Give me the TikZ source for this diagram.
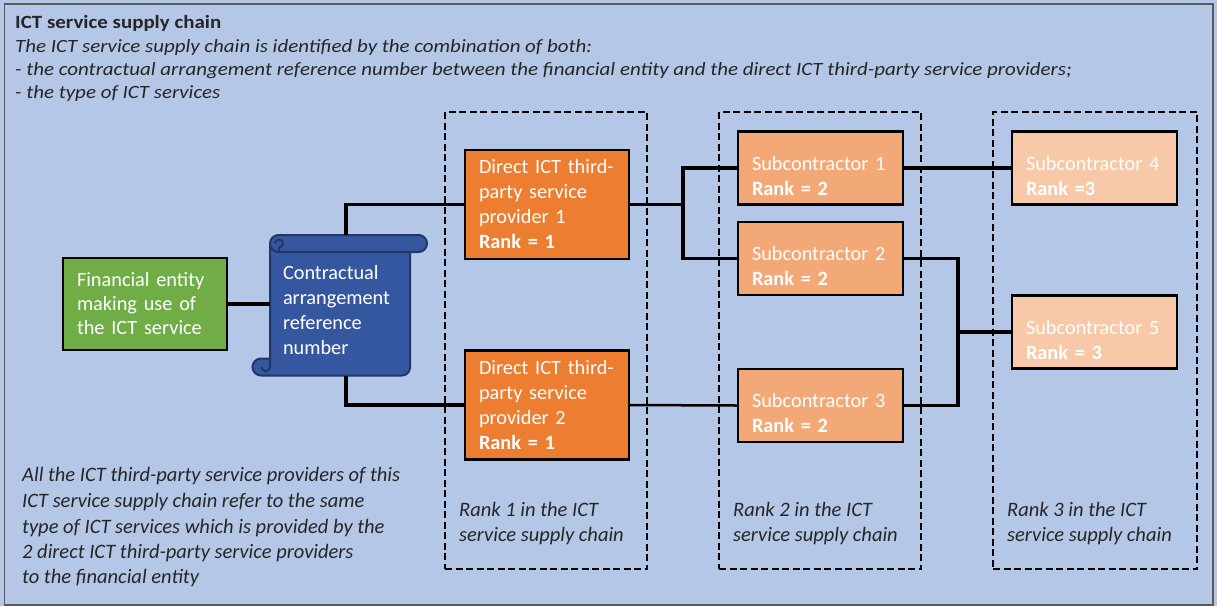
\documentclass[tikz,border=0pt]{standalone}
\usepackage{fontspec}
\setmainfont{Carlito}
\definecolor{bgblue}{HTML}{B4C7E7}
\definecolor{framegray}{HTML}{5A5A5A}
\definecolor{fingreen}{HTML}{70AD47}
\definecolor{scrollblue}{HTML}{3557A0}
\definecolor{scrolldark}{HTML}{1F3864}
\definecolor{orangeA}{HTML}{ED7D31}
\definecolor{orangeB}{HTML}{F2A977}
\definecolor{orangeC}{HTML}{F7C9A8}
\definecolor{txtdark}{HTML}{262626}
\newcommand{\hstretch}[1]{\scalebox{1.12}[1]{#1}}
\begin{document}
\begin{tikzpicture}[x=1pt,y=-1pt,
  boxbase/.style={draw=black, line width=2.4pt, text=white, align=left,
    inner xsep=14pt, inner ysep=0pt, font=\fontsize{20.3}{25}\selectfont},
  finbox/.style={boxbase, fill=fingreen, text width=136pt, minimum height=92pt,
    font=\fontsize{20.3}{24}\selectfont},
  dirbox/.style={boxbase, fill=orangeA, text width=136pt, minimum height=109pt},
  subbox/.style={boxbase, fill=orangeB, text width=137pt, minimum height=73pt, text depth=10pt},
  subboxlight/.style={boxbase, fill=orangeC, text width=137pt, minimum height=73pt, text depth=10pt},
  rankbox/.style={draw=black, line width=2pt, dash pattern=on 7pt off 3.5pt},
  conn/.style={draw=black, line width=3.5pt},
  connthin/.style={draw=black, line width=2.5pt},
  hdr/.style={text=txtdark, inner sep=0pt, anchor=base west, font=\fontsize{18.7}{20}\selectfont},
  note/.style={text=txtdark, inner sep=0pt, anchor=base west, font=\fontsize{20.5}{25}\selectfont\itshape}
]
\fill[bgblue] (0,0) rectangle (1217,606);
\useasboundingbox (0,0) rectangle (1217,606);
\draw[framegray, line width=1.5pt] (4.5,4) rectangle (1213,605);

% header
\node[hdr] (t0) at (15,28) {\hstretch{\bfseries ICT service supply chain}};
\node[hdr] (t1) at (15,52) {\hstretch{\itshape The ICT service supply chain is identified by the combination of both:}};
\node[hdr] (t2) at (15,75) {\hstretch{\itshape - the contractual arrangement reference number between the financial entity and the direct ICT third-party service providers;}};
\node[hdr] (t3) at (15,98) {\hstretch{\itshape - the type of ICT services}};

% rank boxes
\node[rankbox, minimum width=202pt, minimum height=457pt] (r1) at (546,340.5) {};
\node[rankbox, minimum width=202pt, minimum height=457pt] (r2) at (820,340.5) {};
\node[rankbox, minimum width=204pt, minimum height=457pt] (r3) at (1095,340.5) {};

\node[note] (r1a) at (459,516) {Rank 1 in the ICT};
\node[note] (r1b) at (459,541) {service supply chain};
\node[note] (r2a) at (733,516) {Rank 2 in the ICT};
\node[note] (r2b) at (733,541) {service supply chain};
\node[note] (r3a) at (1007,516) {Rank 3 in the ICT};
\node[note] (r3b) at (1007,541) {service supply chain};

% bottom-left note
\node[note] (n1) at (22,481) {All the ICT third-party service providers of this};
\node[note] (n2) at (22,507) {ICT service supply chain refer to the same};
\node[note] (n3) at (22,533) {type of ICT services which is provided by the};
\node[note] (n4) at (22,558) {2 direct ICT third-party service providers};
\node[note] (n5) at (22,583) {to the financial entity};

% scroll shape
\begin{scope}[line width=2pt, draw=scrolldark, fill=scrollblue]
  \filldraw (270,245) -- (270,358.5) -- (261,358.5) arc (270:90:8.5)
     {[rounded corners=8pt] -- (410,375.5)} -- (410,245) -- cycle;
  \draw (270,358.5) -- (270,367) arc (0:180:4.25);
  \filldraw[rounded corners=8.5pt] (270,235) rectangle (427,252);
  \draw (279,252) -- (279,247.5) arc (90:-180:4);
\end{scope}
\coordinate (sct) at (346,235);
\coordinate (scb) at (346,376);

% nodes
\node[finbox] (fin) at (145,304) {Financial entity\\making use of\\the ICT service};
\node[text=white, align=left, inner xsep=13pt, inner ysep=0pt, text width=114pt,
  font=\fontsize{20.3}{25}\selectfont] (scroll) at (340,310)
  {Contractual\\arrangement\\reference\\number};
\node[dirbox] (d1) at (547,204.5) {Direct ICT third-\\party service\\provider 1\\\textbf{Rank = 1}};
\node[dirbox] (d2) at (547,405) {Direct ICT third-\\party service\\provider 2\\\textbf{Rank = 1}};
\node[subbox] (s1) at (820.5,168) {Subcontractor 1\\\textbf{Rank = 2}};
\node[subbox] (s2) at (820.5,258.5) {Subcontractor 2\\\textbf{Rank = 2}};
\node[subbox] (s3) at (820.5,405.5) {Subcontractor 3\\\textbf{Rank = 2}};
\node[subboxlight] (s4) at (1094.5,168) {Subcontractor 4\\\textbf{Rank =3}};
\node[subboxlight] (s5) at (1094.5,332) {Subcontractor 5\\\textbf{Rank = 3}};

% connectors
\draw[conn] (fin.east) -- (fin.east -| scroll.west);
\draw[conn] (sct) |- (d1.west);
\draw[conn] (scb) |- (d2.west);
\coordinate (j1) at (683,204.5);
\draw[conn] (d1.east) -- (j1);
\draw[conn] (j1) |- (s1.west);
\draw[conn] (j1) |- (s2.west);
\draw[connthin] (d2.east) -- (s3.west);
\draw[conn] (s1.east) -- (s4.west);
\coordinate (j2) at (958,332);
\draw[conn] (s2.east) -| (j2);
\draw[conn] (s3.east) -| (j2);
\draw[conn] (j2) -- (s5.west);
\end{tikzpicture}
\end{document}
